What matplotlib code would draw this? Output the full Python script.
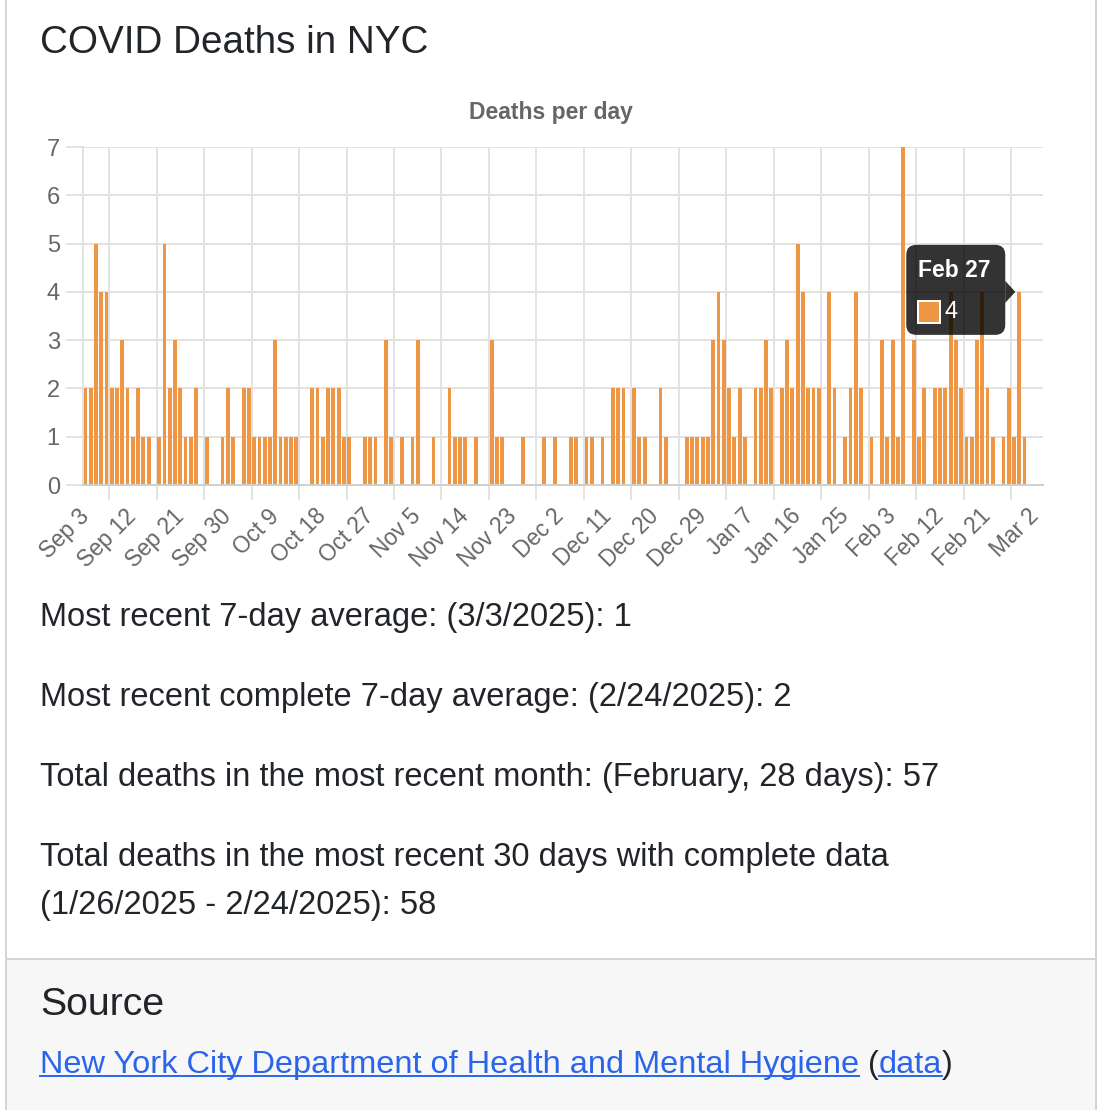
import numpy as np
import pandas as pd
import matplotlib
matplotlib.use("Agg")
import matplotlib.pyplot as plt
from matplotlib.patches import FancyBboxPatch, Rectangle, Polygon
from matplotlib.lines import Line2D
from matplotlib.transforms import IdentityTransform

plt.rcParams['font.family'] = ['Liberation Sans', 'DejaVu Sans']

# daily deaths, Sep 3 2024 .. Mar 3 2025 (last days not reported yet)
dates = pd.date_range("2024-09-03", "2025-03-03", freq="D")
deaths = [2, 2, 5, 4, 4, 2, 2, 3, 2, 1,
          2, 1, 1, 0, 1, 5, 2, 3, 2, 1,
          1, 2, 0, 1, 0, 0, 1, 2, 1, 0,
          2, 2, 1, 1, 1, 1, 3, 1, 1, 1,
          1, 0, 0, 2, 2, 1, 2, 2, 2, 1,
          1, 0, 0, 1, 1, 1, 0, 3, 1, 0,
          1, 0, 1, 3, 0, 0, 1, 0, 0, 2,
          1, 1, 1, 0, 1, 0, 0, 3, 1, 1,
          0, 0, 0, 1, 0, 0, 0, 1, 0, 1,
          0, 0, 1, 1, 0, 1, 1, 0, 1, 0,
          2, 2, 2, 0, 2, 1, 1, 0, 0, 2,
          1, 0, 0, 0, 1, 1, 1, 1, 1, 3,
          4, 3, 2, 1, 2, 1, 0, 2, 2, 3,
          2, 0, 2, 3, 2, 5, 4, 2, 2, 2,
          0, 4, 2, 0, 1, 2, 4, 2, 0, 1,
          0, 3, 1, 3, 1, 7, 0, 3, 1, 2,
          0, 2, 2, 2, 4, 3, 2, 1, 1, 3,
          4, 2, 1, 0, 1, 2, 1, 4, 1, 0,
          0, 0]
tick_labels = ["Sep 3", "Sep 12", "Sep 21", "Sep 30", "Oct 9", "Oct 18", "Oct 27",
               "Nov 5", "Nov 14", "Nov 23", "Dec 2", "Dec 11", "Dec 20", "Dec 29",
               "Jan 7", "Jan 16", "Jan 25", "Feb 3", "Feb 12", "Feb 21", "Mar 2"]
hover_date = "2025-02-27"

stats_lines = ["Most recent 7-day average: (3/3/2025): 1",
               "Most recent complete 7-day average: (2/24/2025): 2",
               "Total deaths in the most recent month: (February, 28 days): 57",
               "Total deaths in the most recent 30 days with complete data",
               "(1/26/2025 - 2/24/2025): 58"]

W, H = 1120, 1110
BAR = '#ef9645'
GRID = '#e2e2e2'
TXT = '#212529'
GRAY = '#666666'
LINK = '#2a64eb'
BORDER = '#d4d4d4'
LW = 1.44  # 2 px

fig = plt.figure(figsize=(W / 100, H / 100), dpi=100)
ident = IdentityTransform()

def fx(x):
    return x / W

def fy(y):
    return 1 - y / H

# card frame + source footer
fig.add_artist(Rectangle((6, 0), 1089, H - 959, transform=ident,
                         fc='#f7f7f7', ec='none', zorder=0))
fig.add_artist(Line2D([6, 1095], [H - 959, H - 959], transform=ident, color=BORDER, lw=LW))
for xb in (5.5, 1095.5):
    fig.add_artist(Line2D([xb, xb], [0, H], transform=ident, color=BORDER, lw=LW))

fig.text(fx(40), fy(53), "COVID Deaths in NYC", fontsize=27.8, color=TXT, va='baseline')
fig.text(fx(551), fy(112), "Deaths per day", fontsize=16.5, fontweight='bold',
         color=GRAY, ha='center', va='center')

# chart
ax = fig.add_axes([fx(82.7), fy(485), (1043 - 82.7) / W, (485 - 147) / H])
xs = np.arange(len(dates))
ax.bar(xs, deaths, width=0.72, color=BAR, zorder=2)
ax.set_xlim(-0.5, len(dates) - 0.5)
ax.set_ylim(0, 7)
ax.set_yticks(range(0, 8))
ax.set_xticks(xs[::9][:len(tick_labels)])
ax.set_xticklabels(tick_labels)
ax.set_xticks(xs[::9][:len(tick_labels) - 1] + 4.5, minor=True)
ax.grid(axis='y', which='major', color=GRID, lw=LW)
ax.grid(axis='x', which='minor', color=GRID, lw=LW)
ax.set_axisbelow(True)
ax.tick_params(axis='y', length=12.5, width=LW, color=GRID, pad=4,
               labelsize=17, labelcolor=GRAY)
ax.tick_params(axis='x', which='major', length=0, pad=20, labelsize=16.3, labelcolor=GRAY)
ax.tick_params(axis='x', which='minor', length=11, width=LW, color=GRID)
for lab in ax.get_xticklabels():
    lab.set_rotation(45)
    lab.set_ha('right')
    lab.set_va('center')
    lab.set_rotation_mode('anchor')
for side in ('top', 'right'):
    ax.spines[side].set_visible(False)
ax.spines['left'].set_color(GRID)
ax.spines['left'].set_linewidth(LW)
ax.spines['bottom'].set_color('#cfcfcf')
ax.spines['bottom'].set_linewidth(LW)

# hover tooltip
hi = int(np.where(dates == pd.Timestamp(hover_date))[0][0])
axp, ayp = ax.transData.transform((hi, deaths[hi]))
right = axp - 14
left = right - 99
top = ayp + 47
bottom = ayp - 43
r = 10
fig.add_artist(FancyBboxPatch((left + r, bottom + r), right - left - 2 * r, top - bottom - 2 * r,
                              boxstyle=f"round,pad={r}", transform=ident,
                              fc=(0, 0, 0, 0.8), ec='none', zorder=5))
fig.add_artist(Polygon([(right, ayp + 11), (right + 10, ayp), (right, ayp - 11)],
                       closed=True, transform=ident, fc=(0, 0, 0, 0.8), ec='none', zorder=5))
fig.text(left + 12, top - 26, pd.Timestamp(hover_date).strftime("%b %d").replace(" 0", " "),
         transform=ident, fontsize=16.5, fontweight='bold', color='white',
         va='center', zorder=6)
fig.add_artist(Rectangle((left + 12, top - 78), 22, 22, transform=ident,
                         fc=BAR, ec='white', lw=LW, zorder=6))
fig.text(left + 38, top - 67, str(deaths[hi]), transform=ident, fontsize=17,
         color='white', va='center', zorder=6)

# stats text
for y, s in zip([626, 706, 786, 866, 914], stats_lines):
    fig.text(fx(40), fy(y), s, fontsize=23.5, color=TXT, va='baseline')

fig.text(fx(40), fy(1015), "Source", fontsize=28.3, color=TXT, va='baseline')

# source line with underlined links
fig.canvas.draw()
renderer = fig.canvas.get_renderer()
pieces = [("New York City Department of Health and Mental Hygiene", LINK, True),
          (" (", TXT, False), ("data", LINK, True), (")", TXT, False)]
xcur = 40
base = H - 1073
for s, c, link in pieces:
    t = fig.text(xcur, base, s, transform=ident, fontsize=23.4, color=c, va='baseline')
    bb = t.get_window_extent(renderer)
    if link:
        fig.add_artist(Line2D([bb.x0, bb.x1], [base - 3, base - 3], transform=ident,
                              color=c, lw=1.4))
    xcur = bb.x1

fig.savefig("out.png", dpi=100)
